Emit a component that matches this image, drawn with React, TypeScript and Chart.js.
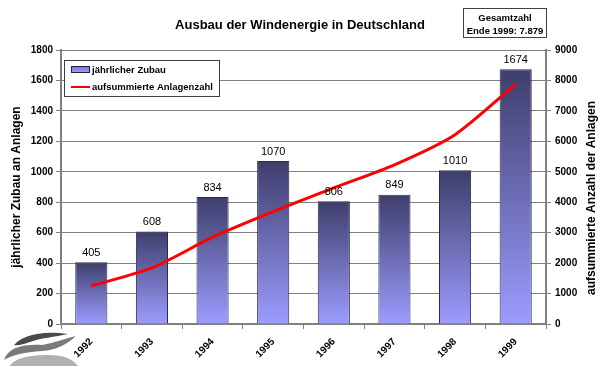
import React, { useEffect, useRef } from 'react';
import { Chart, registerables } from 'chart.js';

Chart.register(...registerables);

const years = ['1992', '1993', '1994', '1995', '1996', '1997', '1998', '1999'];
const annualAdditions = [405, 608, 834, 1070, 806, 849, 1010, 1674];
const cumulativeTotal = [1250, 1840, 2850, 3690, 4470, 5230, 6220, 7879];
const leftAxisMax = 1800;
const leftAxisStep = 200;
const rightAxisMax = 9000;
const rightAxisStep = 1000;
const titleText = 'Ausbau der Windenergie in Deutschland';
const infoBoxLines = ['Gesamtzahl', 'Ende 1999: 7.879'];
const leftAxisTitle = 'jährlicher Zubau an Anlagen';
const rightAxisTitle = 'aufsummierte Anzahl der Anlagen';
const seriesLabels = ['jährlicher Zubau', 'aufsummierte Anlagenzahl'];

const FONT = '"Liberation Sans", Arial, Helvetica, sans-serif';

const decoPlugin = {
  id: 'deco',
  afterDatasetsDraw(chart: any) {
    const ctx = chart.ctx;
    const meta = chart.getDatasetMeta(0);
    ctx.save();
    ctx.font = `11px ${FONT}`;
    ctx.fillStyle = '#000';
    ctx.textAlign = 'center';
    ctx.textBaseline = 'bottom';
    meta.data.forEach((bar: any, i: number) => {
      ctx.fillText(String(chart.data.datasets[0].data[i]), bar.x, bar.y - 4);
    });
    ctx.restore();
  },
  afterDraw(chart: any) {
    const ctx = chart.ctx;
    const area = chart.chartArea;
    ctx.save();
    // title
    ctx.fillStyle = '#000';
    ctx.font = `bold 13px ${FONT}`;
    ctx.textAlign = 'center';
    ctx.textBaseline = 'middle';
    ctx.fillText(titleText, 300, 25);

    // info box
    ctx.fillStyle = '#fff';
    ctx.fillRect(463.5, 8.5, 83, 29);
    ctx.strokeStyle = '#404040';
    ctx.lineWidth = 1;
    ctx.strokeRect(463.5, 8.5, 83, 29);
    ctx.fillStyle = '#000';
    ctx.font = `bold 9.5px ${FONT}`;
    ctx.fillText(infoBoxLines[0], 505, 18);
    ctx.fillText(infoBoxLines[1], 505, 31);

    // legend
    ctx.fillStyle = '#fff';
    ctx.fillRect(64.5, 60.5, 155, 36);
    ctx.strokeStyle = '#404040';
    ctx.strokeRect(64.5, 60.5, 155, 36);
    const sw = ctx.createLinearGradient(0, 66, 0, 72);
    sw.addColorStop(0, '#7070c8');
    sw.addColorStop(1, '#9c9cf0');
    ctx.fillStyle = sw;
    ctx.fillRect(71.5, 66.5, 18, 6);
    ctx.strokeStyle = '#222244';
    ctx.strokeRect(71.5, 66.5, 18, 6);
    ctx.strokeStyle = '#ff0000';
    ctx.lineWidth = 2;
    ctx.beginPath();
    ctx.moveTo(71, 87);
    ctx.lineTo(90, 87);
    ctx.stroke();
    ctx.fillStyle = '#000';
    ctx.font = `bold 9.5px ${FONT}`;
    ctx.textAlign = 'left';
    ctx.fillText(seriesLabels[0], 92, 70);
    ctx.fillText(seriesLabels[1], 92, 87);

    // axis titles
    ctx.font = `bold 12px ${FONT}`;
    ctx.textAlign = 'center';
    ctx.save();
    ctx.translate(17, (area.top + area.bottom) / 2);
    ctx.rotate(-Math.PI / 2);
    ctx.fillText(leftAxisTitle, 0, 0);
    ctx.restore();
    ctx.save();
    ctx.translate(592, 198);
    ctx.rotate(-Math.PI / 2);
    ctx.fillText(rightAxisTitle, 0, 0);
    ctx.restore();

    // logo (decorative)
    ctx.globalCompositeOperation = 'destination-over';
    ctx.fillStyle = '#4a4a4a';
    ctx.beginPath();
    ctx.moveTo(14, 345);
    ctx.bezierCurveTo(22, 336, 40, 330, 68, 334);
    ctx.bezierCurveTo(55, 337, 40, 338, 30, 342);
    ctx.bezierCurveTo(24, 344, 18, 346, 14, 345);
    ctx.fill();
    ctx.fillStyle = '#7a7a7a';
    ctx.beginPath();
    ctx.moveTo(4, 360);
    ctx.bezierCurveTo(8, 348, 22, 344, 42, 345);
    ctx.bezierCurveTo(55, 343, 66, 338, 76, 336);
    ctx.bezierCurveTo(66, 345, 56, 350, 42, 351);
    ctx.bezierCurveTo(25, 352, 12, 355, 4, 360);
    ctx.fill();
    ctx.fillStyle = '#b0b0b0';
    ctx.beginPath();
    ctx.moveTo(10, 366);
    ctx.bezierCurveTo(14, 358, 30, 355, 48, 355);
    ctx.bezierCurveTo(62, 355, 72, 358, 78, 366);
    ctx.closePath();
    ctx.fill();
    ctx.restore();
  },
};

export default function App() {
  const canvasRef = useRef<HTMLCanvasElement | null>(null);

  useEffect(() => {
    const canvas = canvasRef.current;
    if (!canvas) return;
    const tickFont = { family: FONT, size: 10, weight: 'bold' as const };
    const plain = (v: any) => String(v);
    const chart = new Chart(canvas, {
      type: 'bar',
      data: {
        labels: years,
        datasets: [
          {
            type: 'bar',
            label: seriesLabels[0],
            data: annualAdditions,
            yAxisID: 'y',
            backgroundColor: (c: any) => {
              const ch = c.chart;
              if (!ch.chartArea || c.type !== 'data') return '#7070c8';
              const top = ch.scales.y.getPixelForValue(c.raw);
              const bottom = ch.scales.y.getPixelForValue(0);
              const g = ch.ctx.createLinearGradient(0, top, 0, bottom);
              g.addColorStop(0, '#3e3e6c');
              g.addColorStop(1, '#9c9cff');
              return g;
            },
            borderColor: '#2a2a4a',
            borderWidth: 1,
            barPercentage: 0.53,
            categoryPercentage: 1,
            order: 2,
          },
          {
            type: 'line',
            label: seriesLabels[1],
            data: cumulativeTotal,
            yAxisID: 'y2',
            borderColor: '#ff0000',
            borderWidth: 3,
            pointRadius: 0,
            tension: 0.25,
            fill: false,
            order: 1,
          } as any,
        ],
      },
      options: {
        animation: false,
        responsive: false,
        maintainAspectRatio: false,
        layout: { padding: { top: 50, left: 0, right: 0, bottom: 0 } },
        plugins: {
          legend: { display: false },
          tooltip: { enabled: false },
          title: { display: false },
        },
        scales: {
          x: {
            offset: true,
            grid: {
              offset: true,
              drawOnChartArea: false,
              drawTicks: true,
              tickLength: 5,
              color: '#808080',
            },
            border: { color: '#808080', width: 2 },
            ticks: {
              maxRotation: 45,
              minRotation: 45,
              font: tickFont,
              color: '#000',
              padding: 7,
            },
            afterFit: (s: any) => {
              s.height = 43;
            },
          },
          y: {
            position: 'left',
            min: 0,
            max: leftAxisMax,
            ticks: { stepSize: leftAxisStep, font: tickFont, color: '#000', padding: 3, callback: plain },
            grid: { color: '#808080', tickLength: 5 },
            border: { color: '#808080', width: 2 },
            afterFit: (s: any) => {
              s.width = 61;
            },
          },
          y2: {
            position: 'right',
            min: 0,
            max: rightAxisMax,
            ticks: { stepSize: rightAxisStep, font: tickFont, color: '#000', padding: 4, callback: plain },
            grid: { drawOnChartArea: false, color: '#808080', tickLength: 5 },
            border: { color: '#808080', width: 2 },
            afterFit: (s: any) => {
              s.width = 54;
            },
          },
        },
      },
      plugins: [decoPlugin],
    });
    return () => chart.destroy();
  }, []);

  return (
    <div style={{ position: 'fixed', left: 0, top: 0, width: 600, height: 367, background: '#fff' }}>
      <canvas ref={canvasRef} width={600} height={367} style={{ width: 600, height: 367, display: 'block' }} />
    </div>
  );
}
